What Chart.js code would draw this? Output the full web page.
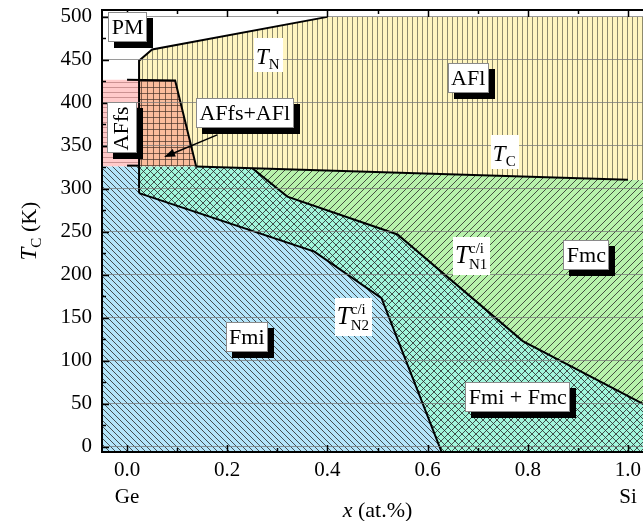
<!DOCTYPE html>
<html>
<head>
<meta charset="utf-8">
<script src="https://cdn.jsdelivr.net/npm/chart.js@4/dist/chart.umd.min.js"></script>
<style>
  html, body { margin: 0; padding: 0; background: #fff; }
  canvas { display: block; }
</style>
</head>
<body>
<canvas id="phase" width="643" height="521"></canvas>
<script>
// Magnetic phase diagram of the Ge–Si series: composition x against temperature (K).

// Axis extents and tick values
const xRange = [-0.05, 1.03];
const yRange = [-6, 508];
const xMajorTicks = [0, 0.2, 0.4, 0.6, 0.8, 1.0];
const xMinorTicks = [0.1, 0.3, 0.5, 0.7, 0.9];
const yMajorTicks = [0, 50, 100, 150, 200, 250, 300, 350, 400, 450, 500];
const yMinorTicks = [25, 75, 125, 175, 225, 275, 325, 375, 425, 475];

// Phase boundaries, [x, T] pairs
const neelLine = [[0.024, 295], [0.024, 449], [0.05, 462], [0.40, 500]];
const affsEdge = [[0.0, 427], [0.096, 426], [0.138, 326]];
const affsFoot = [[0.0, 327], [0.024, 327]];
const curieLine = [[0.138, 326], [1.0, 310.5]];
const tn1Line = [[0.25, 324], [0.32, 291], [0.54, 247], [0.79, 123], [1.03, 50]];
const tn2Line = [[0.024, 295], [0.374, 227], [0.508, 173], [0.628, -6]];

// Corner values where the regions meet the frame
const curieAtEdge = 310;
const regionTop = 500;
const affsTop = 427;
const lowerTop = 326;

// Phase regions, assembled from the boundaries above
const xL = xRange[0], xR = xRange[1], yB = yRange[0];
const pinkRegion = [[xL, lowerTop], [xL, affsTop], [0.024, affsTop], [0.024, lowerTop]];
const orangeRegion = [[0.024, affsTop], affsEdge[1], affsEdge[2], [0.024, lowerTop]];
const yellowRegion = [[0.024, affsTop], ...neelLine.slice(1), [xR, regionTop], [xR, curieAtEdge],
                      curieLine[0], affsEdge[1]];
const greenRegion = [...tn1Line, [xR, curieAtEdge]];
const tealRegion = [[0.024, lowerTop], curieLine[0], ...tn1Line, [xR, yB], ...tn2Line.slice().reverse()];
const blueRegion = [[xL, yB], [xL, lowerTop], [0.024, lowerTop], ...tn2Line];

const SERIF = '"Liberation Serif", "DejaVu Serif", serif';

const toPts = arr => arr.map(p => ({ x: p[0], y: p[1] }));

// Hatch tile: v = vertical, h = horizontal, b = "\" diagonal, f = "/" diagonal
function hatch(bg, kinds, size, ink) {
  const c = document.createElement('canvas');
  c.width = size; c.height = size;
  const g = c.getContext('2d');
  g.fillStyle = bg;
  g.fillRect(0, 0, size, size);
  g.strokeStyle = ink;
  g.lineWidth = 1;
  g.beginPath();
  const m = Math.floor(size / 2) + 0.5;
  if (kinds.includes('v')) { g.moveTo(m, 0); g.lineTo(m, size); }
  if (kinds.includes('h')) { g.moveTo(0, m); g.lineTo(size, m); }
  for (const k of [-size, 0, size]) {
    if (kinds.includes('b')) { g.moveTo(k, 0); g.lineTo(k + size, size); }
    if (kinds.includes('f')) { g.moveTo(k + size, 0); g.lineTo(k, size); }
  }
  g.stroke();
  return document.getElementById('phase').getContext('2d').createPattern(c, 'repeat');
}

const INK = 'rgba(40,40,40,0.8)';
const fills = {
  pink:   hatch('rgb(255,202,202)', 'h', 5, 'rgba(160,100,100,0.55)'),
  orange: hatch('rgb(250,188,156)', 'vh', 6, 'rgba(70,50,40,0.7)'),
  yellow: hatch('rgb(255,245,192)', 'v', 5, 'rgba(80,80,65,0.65)'),
  green:  hatch('rgb(184,242,172)', 'f', 7, INK),
  teal:   hatch('rgb(162,246,220)', 'bf', 7, INK),
  blue:   hatch('rgb(180,229,250)', 'b', 6, INK)
};

function regionSet(points, pattern) {
  return {
    data: toPts(points), showLine: true, fill: 'shape', backgroundColor: pattern,
    borderWidth: 0, pointRadius: 0, pointHoverRadius: 0, tension: 0, order: 2
  };
}
function boundarySet(points) {
  return {
    data: toPts(points), showLine: true, fill: false, borderColor: '#000',
    borderWidth: 2, pointRadius: 0, pointHoverRadius: 0, tension: 0, order: 1,
    borderJoinStyle: 'miter'
  };
}

// Boxed phase names with a drop shadow
const boxNotes = [
  { text: 'PM', x: 0.001, y: 488.4 },
  { text: 'AFfs+AFl', x: 0.235, y: 388.4 },
  { text: 'AFl', x: 0.681, y: 428.5 },
  { text: 'Fmc', x: 0.917, y: 222.7 },
  { text: 'Fmi + Fmc', x: 0.78, y: 57.6 },
  { text: 'Fmi', x: 0.239, y: 127.3 },
  { text: 'AFfs', x: -0.011, y: 371.5, vertical: true }
];
// Transition temperature names
const tempNotes = [
  { sub: 'N', x: 0.282, y: 455.8 },
  { sub: 'C', x: 0.754, y: 343 },
  { sub: 'N1', sup: 'c/i', x: 0.688, y: 222 },
  { sub: 'N2', sup: 'c/i', x: 0.452, y: 151 }
];
// Pointer from the AFfs+AFl box into its region
const pointer = { from: [0.18, 362.8], to: [0.074, 337] };

function drawBox(ctx, cx, cy, w, h) {
  ctx.fillStyle = '#000';
  ctx.fillRect(Math.round(cx - w / 2) + 6, Math.round(cy - h / 2) + 6, w, h);
  ctx.fillStyle = '#fff';
  ctx.fillRect(Math.round(cx - w / 2), Math.round(cy - h / 2), w, h);
  ctx.strokeStyle = '#8a8a8a';
  ctx.lineWidth = 1;
  ctx.strokeRect(Math.round(cx - w / 2) + 0.5, Math.round(cy - h / 2) + 0.5, w - 1, h - 1);
}

const decorations = {
  id: 'decorations',
  afterDraw(chart) {
    const { ctx, chartArea: ca } = chart;
    const xs = chart.scales.x, ys = chart.scales.y;
    ctx.save();

    // inward tick marks on left, bottom and top edges
    ctx.strokeStyle = '#000';
    ctx.lineWidth = 1.5;
    ctx.beginPath();
    const yTick = (v, len) => { const p = Math.round(ys.getPixelForValue(v)) + 0.5; ctx.moveTo(ca.left, p); ctx.lineTo(ca.left + len, p); };
    const xTick = (v, len) => {
      const p = Math.round(xs.getPixelForValue(v)) + 0.5;
      ctx.moveTo(p, ca.bottom); ctx.lineTo(p, ca.bottom - len);
      ctx.moveTo(p, ca.top); ctx.lineTo(p, ca.top + len);
    };
    yMajorTicks.forEach(v => yTick(v, 7));
    yMinorTicks.forEach(v => yTick(v, 4));
    xMajorTicks.forEach(v => xTick(v, 7));
    xMinorTicks.forEach(v => xTick(v, 4));
    ctx.stroke();

    // top frame line
    ctx.lineWidth = 2;
    ctx.beginPath();
    ctx.moveTo(ca.left - 1, ca.top);
    ctx.lineTo(ca.right, ca.top);
    ctx.stroke();

    // pointer arrow
    const ax0 = xs.getPixelForValue(pointer.from[0]), ay0 = ys.getPixelForValue(pointer.from[1]);
    const ax1 = xs.getPixelForValue(pointer.to[0]), ay1 = ys.getPixelForValue(pointer.to[1]);
    const ang = Math.atan2(ay1 - ay0, ax1 - ax0);
    ctx.lineWidth = 1.5;
    ctx.beginPath();
    ctx.moveTo(ax0, ay0);
    ctx.lineTo(ax1 - 8 * Math.cos(ang), ay1 - 8 * Math.sin(ang));
    ctx.stroke();
    ctx.fillStyle = '#000';
    ctx.beginPath();
    ctx.moveTo(ax1, ay1);
    ctx.lineTo(ax1 - 11 * Math.cos(ang) + 4 * Math.sin(ang), ay1 - 11 * Math.sin(ang) - 4 * Math.cos(ang));
    ctx.lineTo(ax1 - 11 * Math.cos(ang) - 4 * Math.sin(ang), ay1 - 11 * Math.sin(ang) + 4 * Math.cos(ang));
    ctx.closePath();
    ctx.fill();

    // boxed phase names
    ctx.font = `22px ${SERIF}`;
    ctx.textBaseline = 'middle';
    ctx.textAlign = 'center';
    boxNotes.forEach(n => {
      const cx = xs.getPixelForValue(n.x), cy = ys.getPixelForValue(n.y);
      const tw = ctx.measureText(n.text).width;
      const w = Math.round(tw + 7), h = 30;
      if (n.vertical) {
        drawBox(ctx, cx, cy, h, w);
        ctx.save();
        ctx.translate(cx, cy + 1);
        ctx.rotate(-Math.PI / 2);
        ctx.fillStyle = '#000';
        ctx.fillText(n.text, 0, 1);
        ctx.restore();
      } else {
        drawBox(ctx, cx, cy, w, h);
        ctx.fillStyle = '#000';
        ctx.fillText(n.text, cx, cy + 1);
      }
    });

    // T labels with sub/superscripts on white
    ctx.textAlign = 'left';
    ctx.textBaseline = 'alphabetic';
    tempNotes.forEach(n => {
      const cx = xs.getPixelForValue(n.x), cy = ys.getPixelForValue(n.y);
      const big = n.sup ? 25 : 23;
      ctx.font = `italic ${big}px ${SERIF}`;
      const wT = ctx.measureText('T').width;
      ctx.font = `15px ${SERIF}`;
      const wS = Math.max(ctx.measureText(n.sub).width, n.sup ? ctx.measureText(n.sup).width : 0);
      const w = wT + wS + 5, h = n.sup ? 38 : 34;
      ctx.fillStyle = '#fff';
      ctx.fillRect(Math.round(cx - w / 2), Math.round(cy - h / 2), Math.round(w), h);
      ctx.fillStyle = '#000';
      const x0 = cx - w / 2 + 2;
      ctx.font = `italic ${big}px ${SERIF}`;
      ctx.fillText('T', x0, cy + (n.sup ? 7 : 9));
      ctx.font = `15px ${SERIF}`;
      ctx.fillText(n.sub, x0 + wT, cy + (n.sup ? 13 : 14));
      if (n.sup) ctx.fillText(n.sup, x0 + wT, cy - 3);
    });

    // axis titles and end-member names
    ctx.fillStyle = '#000';
    ctx.textBaseline = 'middle';
    ctx.textAlign = 'center';
    ctx.font = `21px ${SERIF}`;
    ctx.fillText('Ge', xs.getPixelForValue(0), ca.bottom + 45);
    ctx.fillText('Si', xs.getPixelForValue(1), ca.bottom + 45);

    // x (at.%)
    ctx.textAlign = 'left';
    ctx.font = `italic 22px ${SERIF}`;
    const wx = ctx.measureText('x').width;
    ctx.font = `22px ${SERIF}`;
    const wr = ctx.measureText(' (at.%)').width;
    let tx = xs.getPixelForValue(0.5) - (wx + wr) / 2;
    const ty = ca.bottom + 59;
    ctx.font = `italic 22px ${SERIF}`;
    ctx.fillText('x', tx, ty);
    ctx.font = `22px ${SERIF}`;
    ctx.fillText(' (at.%)', tx + wx, ty);

    // T_C (K), rotated
    ctx.save();
    ctx.translate(28, (ca.top + ca.bottom) / 2);
    ctx.rotate(-Math.PI / 2);
    ctx.font = `italic 23px ${SERIF}`;
    const wT = ctx.measureText('T').width;
    ctx.font = `15px ${SERIF}`;
    const wC = ctx.measureText('C').width;
    ctx.font = `22px ${SERIF}`;
    const wK = ctx.measureText(' (K)').width;
    let px = -(wT + wC + wK) / 2;
    ctx.textBaseline = 'alphabetic';
    ctx.font = `italic 23px ${SERIF}`;
    ctx.fillText('T', px, 8);
    ctx.font = `15px ${SERIF}`;
    ctx.fillText('C', px + wT, 13);
    ctx.font = `22px ${SERIF}`;
    ctx.fillText(' (K)', px + wT + wC, 8);
    ctx.restore();

    ctx.restore();
  }
};

new Chart(document.getElementById('phase'), {
  type: 'scatter',
  data: {
    datasets: [
      regionSet(blueRegion, fills.blue),
      regionSet(tealRegion, fills.teal),
      regionSet(greenRegion, fills.green),
      regionSet(yellowRegion, fills.yellow),
      regionSet(orangeRegion, fills.orange),
      regionSet(pinkRegion, fills.pink),
      boundarySet(neelLine),
      boundarySet(affsEdge),
      boundarySet(affsFoot),
      boundarySet(curieLine),
      boundarySet(tn1Line),
      boundarySet(tn2Line)
    ]
  },
  options: {
    responsive: false,
    animation: false,
    events: [],
    layout: { padding: { left: 0, right: 0, top: 10, bottom: 0 } },
    plugins: { legend: { display: false }, tooltip: { enabled: false } },
    scales: {
      x: {
        type: 'linear',
        min: xRange[0], max: xRange[1],
        afterBuildTicks: s => { s.ticks = xMajorTicks.map(v => ({ value: v })); },
        afterFit: s => { s.height = 69; s.paddingLeft = 0; s.paddingRight = 0; },
        grid: { drawOnChartArea: false, drawTicks: false },
        border: { display: true, color: '#000', width: 2, z: 1 },
        ticks: {
          padding: 6, color: '#000', font: { family: SERIF, size: 21 },
          maxRotation: 0, autoSkip: false,
          callback: v => Number(v).toFixed(1)
        }
      },
      y: {
        type: 'linear',
        min: yRange[0], max: yRange[1],
        afterBuildTicks: s => { s.ticks = yMajorTicks.map(v => ({ value: v })); },
        afterFit: s => { s.width = 102; s.paddingTop = 0; s.paddingBottom = 0; },
        grid: { color: 'rgba(120,120,120,0.75)', lineWidth: 1, drawTicks: false, z: 1 },
        border: { display: true, color: '#000', width: 2, z: 1 },
        ticks: {
          padding: 10, color: '#000', font: { family: SERIF, size: 21 },
          autoSkip: false
        }
      }
    }
  },
  plugins: [decorations]
});
</script>
</body>
</html>
